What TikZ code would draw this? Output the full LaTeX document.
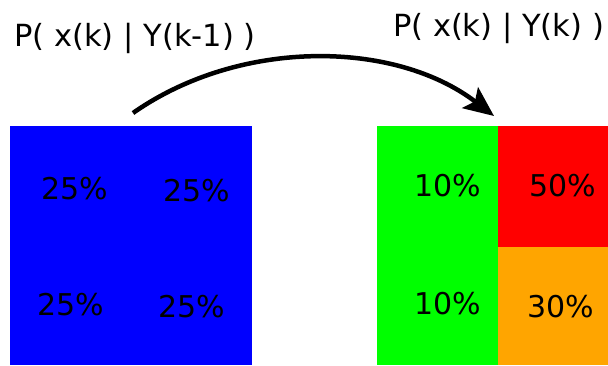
\documentclass[tikz,border=0pt]{standalone}
\usepackage{fontspec}
\setmainfont{DejaVu Sans}
\usetikzlibrary{arrows.meta}
\definecolor{prior}{HTML}{0000FF}
\definecolor{lowp}{HTML}{00FF00}
\definecolor{highp}{HTML}{FF0000}
\definecolor{midp}{HTML}{FFA500}
\tikzset{
  >={Stealth[length=30pt,width=26pt,inset=6pt]},
  cell/.style={draw=none, inner sep=0pt, anchor=north west},
  pct/.style={font=\fontsize{30}{35}\selectfont, text=black, inner sep=0pt},
  title/.style={font=\fontsize{30.5}{36}\selectfont, text=black, inner sep=0pt},
  update/.style={->, line width=4.5pt, draw=black}
}

\begin{document}
\begin{tikzpicture}[x=1pt,y=-1pt]
  \useasboundingbox (0,0) rectangle (608,365);

  % prior, uniform
  \node[cell, fill=prior, minimum width=242pt, minimum height=239.5pt] (blue) at (10,125.5) {};
  \node[pct] (p11) at (75,189) {25\%};
  \node[pct] (p12) at (197,191) {25\%};
  \node[pct] (p21) at (71,305) {25\%};
  \node[pct] (p22) at (192,307) {25\%};

  % posterior
  \node[cell, fill=lowp,  minimum width=121.5pt, minimum height=239.5pt] (green)  at (376.5,125.5) {};
  \node[cell, fill=highp, minimum width=110pt,   minimum height=121.5pt] (red)    at (498,125.5) {};
  \node[cell, fill=midp,  minimum width=110pt,   minimum height=118pt]   (orange) at (498,247) {};
  \node[pct] (q11) at (448,186) {10\%};
  \node[pct] (q12) at (563,186) {50\%};
  \node[pct] (q21) at (448,304) {10\%};
  \node[pct] (q22) at (561,307) {30\%};

  % titles
  \node[title] (tprior) at (135,38) {P( x(k) | Y(k-1) )};
  \node[title] (tpost)  at (498.5,28) {P( x(k) | Y(k) )};

  % update step
  \coordinate (from) at (133,113);
  \coordinate (to) at (494,116);
  \draw[update] (from) .. controls (240,38) and (395,40) .. (to);
\end{tikzpicture}
\end{document}
